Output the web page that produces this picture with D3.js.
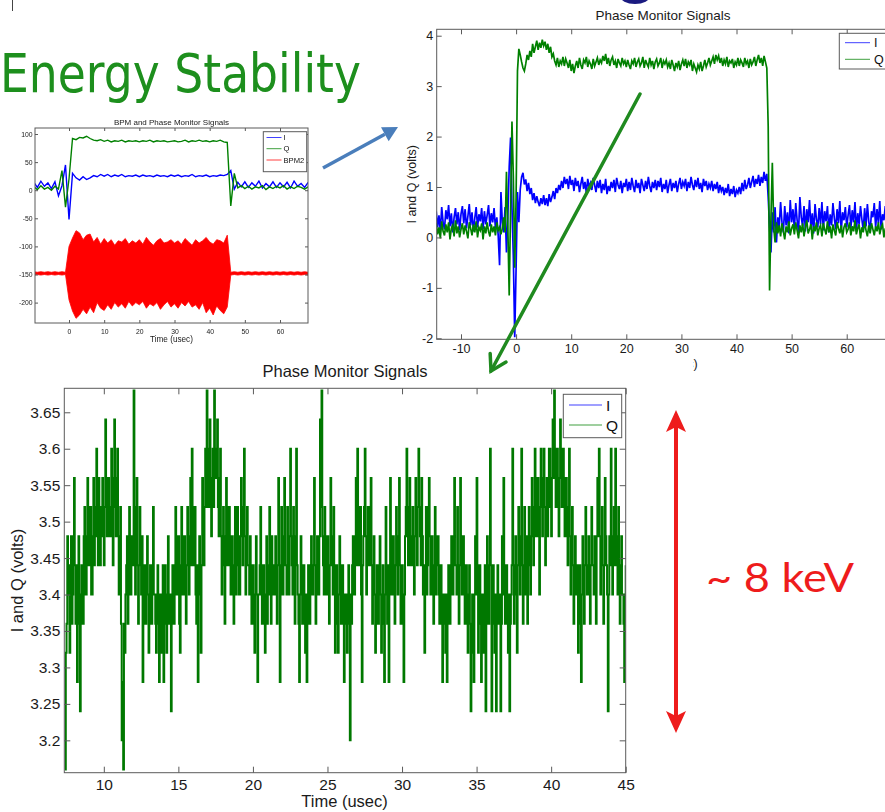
<!DOCTYPE html>
<html>
<head>
<meta charset="utf-8">
<script src="https://cdn.jsdelivr.net/npm/d3@7"></script>
<style>
  html, body { margin: 0; padding: 0; background: #fff; }
  svg { display: block; }
</style>
</head>
<body>
<svg id="slide" width="885" height="812"></svg>
<script>
// ---------------------------------------------------------------
// Data
// ---------------------------------------------------------------

// Overview panel: BPM and phase monitor signals (1 us per sample, from -10 us)
const bpmStart = -10, bpmStep = 1;
const bpmI = [
  14, 5, 16, 7, 13, 3, 15, -10, 8, 45,
  -52, 30, 22, 18, 24, 19, 22, 26, 24, 28,
  25, 28, 24, 27, 25, 28, 24, 26, 25, 27,
  24, 27, 25, 26, 24, 27, 25, 26, 24, 27,
  25, 27, 24, 26, 25, 28, 24, 26, 25, 27,
  24, 26, 25, 27, 26, 28, 35, 2, 14, 6,
  15, 5, 13, 7, 16, 4, 12, 6, 15, 5,
  13, 6, 14, 4, 16, 7, 12, 5, 14
];
const bpmQ = [
  6, 1, 8, 2, 5, 0, 7, 2, 35, -30,
  20, 92, 90, 94, 93, 96, 92, 89, 88, 90,
  87, 89, 86, 88, 87, 89, 86, 88, 87, 88,
  86, 88, 87, 89, 86, 88, 87, 88, 86, 87,
  88, 86, 87, 89, 86, 88, 87, 89, 87, 88,
  86, 88, 87, 89, 86, 85, -28, 30, 4, 8,
  3, 7, 2, 6, 4, 8, 1, 6, 3, 7,
  4, 8, 2, 6, 3, 7, 5, 2, 6
];
// BPM2 is a fast oscillation: stored as its upper and lower envelope
const bpm2Upper = [
  -145, -146, -145, -146, -145, -146, -145, -146, -145, -146,
  -100, -85, -72, -76, -88, -80, -78, -92, -84, -96,
  -86, -94, -88, -98, -90, -92, -86, -96, -90, -94,
  -88, -96, -84, -92, -98, -90, -86, -94, -92, -88,
  -94, -90, -96, -86, -92, -98, -88, -94, -90, -84,
  -92, -96, -88, -90, -94, -80, -146, -145, -146, -145,
  -146, -145, -146, -145, -146, -145, -146, -145, -146, -145,
  -146, -145, -146, -145, -146, -145, -146, -145, -146
];
const bpm2Lower = [
  -151, -150, -151, -150, -151, -150, -151, -150, -151, -150,
  -195, -215, -228, -222, -212, -220, -208, -218, -200, -210,
  -214, -204, -212, -200, -208, -202, -210, -198, -206, -200,
  -204, -198, -210, -202, -206, -200, -212, -204, -198, -208,
  -202, -210, -200, -206, -198, -208, -204, -212, -200, -218,
  -210, -222, -206, -214, -220, -208, -151, -150, -151, -150,
  -151, -150, -151, -150, -151, -150, -151, -150, -151, -150,
  -151, -150, -151, -150, -151, -150, -151, -150, -151
];
const bpmXTicks = [0, 10, 20, 30, 40, 50, 60];
const bpmYTicks = [-200, -150, -100, -50, 0, 50, 100];
const bpmSeries = ["I", "Q", "BPM2"];

// Phase monitor, full pulse (volts, 0.25 us per sample, from -14.5 us)
const phaseStart = -14.5, phaseStep = 0.25;
const phaseI = [
  0.52, 0.20, 0.44, 0.12, 0.60, 0.30, 0.16, 0.54, 0.36, 0.64, 0.22, 0.48, 0.10, 0.40, 0.58, 0.26, 0.50, 0.14, 0.46, 0.62,
  0.28, 0.56, 0.18, 0.42, 0.66, 0.24, 0.50, 0.12, 0.38, 0.60, 0.20, 0.46, 0.32, 0.58, 0.16, 0.52, 0.26, 0.44, 0.64, 0.22,
  0.48, 0.30, 0.58, 0.18, 0.40, 0.04, -0.55, 0.90, 0.30, 0.10, 0.60, -0.30, 0.40, 1.40, 1.98, 0.60, -0.40, -1.98, -0.60, 0.90,
  0.30, 0.95, 1.20, 1.28, 1.05, 1.15, 0.92, 1.08, 0.86, 0.98, 0.74, 0.88, 0.68, 0.82, 0.70, 0.62, 0.78, 0.66, 0.84, 0.64,
  0.78, 0.62, 0.86, 0.70, 0.80, 0.92, 0.76, 0.98, 0.88, 1.04, 0.94, 1.12, 0.98, 1.20, 1.06, 1.16, 0.96, 1.22, 1.04, 1.14,
  0.92, 1.18, 1.02, 1.12, 0.90, 1.06, 1.20, 0.96, 1.10, 0.88, 1.16, 1.00, 1.08, 0.94, 1.18, 1.04, 0.90, 1.12, 0.98, 1.14,
  0.88, 1.06, 0.94, 1.16, 0.86, 1.02, 0.92, 1.10, 0.98, 1.14, 0.90, 1.18, 1.04, 0.96, 1.12, 0.88, 1.08, 1.00, 1.16, 0.92,
  1.10, 0.94, 1.18, 1.02, 0.90, 1.14, 0.98, 1.08, 0.88, 1.16, 1.04, 0.92, 1.12, 0.96, 1.20, 1.02, 0.90, 1.10, 0.98, 1.14,
  0.94, 1.12, 1.00, 1.18, 0.90, 1.06, 0.96, 1.14, 0.88, 1.04, 1.16, 0.92, 1.08, 0.98, 1.12, 0.90, 1.06, 1.18, 0.96, 1.10,
  1.02, 1.16, 0.92, 1.10, 0.98, 1.20, 1.04, 0.94, 1.14, 1.00, 1.18, 0.96, 1.08, 0.90, 1.16, 1.02, 1.12, 0.94, 1.06, 0.98,
  1.12, 0.92, 1.06, 0.96, 1.10, 0.88, 1.04, 0.92, 1.00, 0.84, 0.98, 0.88, 1.06, 0.82, 0.96, 0.86, 1.02, 0.80, 0.94, 0.88,
  1.00, 0.86, 1.08, 0.92, 1.14, 0.96, 1.04, 1.18, 0.98, 1.10, 1.22, 1.00, 1.16, 1.06, 1.24, 1.02, 1.20, 1.08, 1.30, 1.12,
  1.26, 0.80, 0.20, -0.30, 0.50, 0.10, 0.60, -0.10, 0.40, 0.20, 0.70, 0.30, 0.10, 0.62, 0.24, 0.50, 0.08, 0.74, 0.30, 0.56,
  0.16, 0.68, 0.34, 0.10, 0.80, 0.40, 0.22, 0.62, 0.12, 0.56, 0.30, 0.74, 0.18, 0.48, 0.08, 0.66, 0.36, 0.20, 0.58, 0.26,
  0.70, 0.14, 0.52, 0.32, 0.62, 0.10, 0.46, 0.24, 0.68, 0.38, 0.16, 0.56, 0.28, 0.72, 0.12, 0.50, 0.34, 0.60, 0.20, 0.44,
  0.64, 0.18, 0.54, 0.30, 0.70, 0.12, 0.48, 0.26, 0.62, 0.36, 0.14, 0.58, 0.22, 0.66, 0.32, 0.10, 0.52, 0.40, 0.68, 0.20,
  0.56, 0.28, 0.72, 0.16, 0.46, 0.34, 0.62, 0.12, 0.54, 0.38, 0.60
];
const phaseQ = [
  0.28, 0.06, 0.20, -0.02, 0.32, 0.12, 0.04, 0.26, 0.10, 0.30, -0.04, 0.18, 0.24, 0.02, 0.34, 0.08, 0.22, 0.00, 0.16, 0.28,
  0.06, 0.24, 0.12, -0.02, 0.30, 0.18, 0.04, 0.26, 0.10, 0.32, 0.00, 0.20, 0.14, 0.28, -0.04, 0.22, 0.08, 0.30, 0.12, 0.02,
  0.26, 0.10, 0.22, 0.04, 0.30, 0.14, 0.20, 0.06, 0.18, 0.40, 0.10, 1.30, 0.20, -1.15, 0.60, 2.30, 1.20, -0.60, 0.80, 3.30,
  3.74, 3.62, 3.48, 3.36, 3.30, 3.44, 3.62, 3.52, 3.70, 3.58, 3.84, 3.66, 3.78, 3.90, 3.72, 3.86, 3.76, 3.92, 3.80, 3.88,
  3.72, 3.84, 3.66, 3.78, 3.58, 3.64, 3.50, 3.42, 3.56, 3.38, 3.50, 3.44, 3.58, 3.40, 3.54, 3.46, 3.36, 3.52, 3.30, 3.44,
  3.26, 3.40, 3.50, 3.36, 3.56, 3.42, 3.34, 3.52, 3.46, 3.58, 3.38, 3.50, 3.44, 3.34, 3.54, 3.40, 3.48, 3.56, 3.42, 3.52,
  3.46, 3.60, 3.50, 3.64, 3.44, 3.56, 3.40, 3.52, 3.58, 3.42, 3.50, 3.36, 3.54, 3.46, 3.40, 3.56, 3.44, 3.50, 3.38, 3.52,
  3.42, 3.34, 3.50, 3.44, 3.56, 3.38, 3.48, 3.54, 3.40, 3.46, 3.58, 3.36, 3.52, 3.44, 3.38, 3.56, 3.42, 3.50, 3.34, 3.48,
  3.54, 3.40, 3.46, 3.56, 3.36, 3.50, 3.44, 3.52, 3.38, 3.46, 3.34, 3.52, 3.42, 3.30, 3.46, 3.38, 3.50, 3.32, 3.44, 3.52,
  3.40, 3.54, 3.36, 3.48, 3.42, 3.52, 3.30, 3.44, 3.36, 3.28, 3.42, 3.34, 3.48, 3.30, 3.40, 3.52, 3.38, 3.46, 3.56, 3.42,
  3.50, 3.58, 3.44, 3.62, 3.52, 3.60, 3.46, 3.56, 3.40, 3.52, 3.44, 3.58, 3.38, 3.50, 3.46, 3.54, 3.36, 3.48, 3.42, 3.56,
  3.40, 3.52, 3.46, 3.38, 3.56, 3.44, 3.50, 3.36, 3.54, 3.42, 3.48, 3.58, 3.40, 3.52, 3.62, 3.46, 3.56, 3.40, 3.60, 3.48,
  3.36, 2.20, -1.05, 0.40, 1.48, 0.20, -0.10, 0.30, 0.08, 0.24, 0.02, 0.28, 0.12, -0.04, 0.22, 0.10, 0.32, 0.04, 0.18, 0.26,
  0.06, 0.30, 0.14, -0.02, 0.24, 0.10, 0.28, 0.02, 0.20, 0.34, 0.08, 0.16, 0.26, -0.04, 0.22, 0.12, 0.30, 0.04, 0.18, 0.24,
  0.02, 0.28, 0.16, 0.06, 0.32, 0.10, 0.22, -0.02, 0.26, 0.14, 0.04, 0.30, 0.18, 0.08, 0.24, 0.00, 0.20, 0.28, 0.10, 0.16,
  0.30, 0.04, 0.22, 0.12, 0.34, 0.06, 0.18, 0.26, -0.02, 0.20, 0.10, 0.32, 0.14, 0.02, 0.24, 0.08, 0.28, 0.16, 0.04, 0.22,
  0.12, 0.30, 0.06, 0.20, 0.26, 0.00, 0.18, 0.10, 0.28, 0.14, 0.22
];
const phaseXTicks = [-10, 0, 10, 20, 30, 40, 50, 60];
const phaseYTicks = [-2, -1, 0, 1, 2, 3, 4];
const phaseSeries = ["I", "Q"];

// Phase monitor Q, flat top in detail (volts, 0.05 us per sample, from 7.4 us)
const flatStart = 7.4, flatStep = 0.05;
const flatQ = [
  3.16, 3.32, 3.36, 3.48, 3.44, 3.40, 3.32, 3.44, 3.48, 3.36, 3.40, 3.48, 3.56, 3.44, 3.36, 3.44, 3.28, 3.40, 3.48, 3.36,
  3.24, 3.40, 3.44, 3.36, 3.36, 3.48, 3.52, 3.40, 3.40, 3.48, 3.56, 3.44, 3.44, 3.52, 3.52, 3.40, 3.40, 3.48, 3.56, 3.44,
  3.48, 3.52, 3.60, 3.48, 3.44, 3.56, 3.52, 3.44, 3.48, 3.52, 3.56, 3.48, 3.44, 3.52, 3.64, 3.52, 3.48, 3.56, 3.56, 3.48,
  3.52, 3.48, 3.60, 3.52, 3.44, 3.56, 3.64, 3.52, 3.48, 3.56, 3.60, 3.48, 3.40, 3.48, 3.52, 3.36, 3.20, 3.28, 3.16, 3.36,
  3.32, 3.40, 3.44, 3.48, 3.36, 3.44, 3.52, 3.40, 3.40, 3.48, 3.48, 3.44, 3.68, 3.48, 3.40, 3.52, 3.56, 3.44, 3.36, 3.44,
  3.52, 3.44, 3.40, 3.48, 3.28, 3.40, 3.44, 3.36, 3.36, 3.44, 3.48, 3.40, 3.32, 3.40, 3.44, 3.36, 3.36, 3.44, 3.52, 3.40,
  3.40, 3.36, 3.32, 3.40, 3.44, 3.36, 3.28, 3.40, 3.40, 3.32, 3.36, 3.44, 3.28, 3.36, 3.44, 3.36, 3.32, 3.40, 3.48, 3.36,
  3.36, 3.40, 3.24, 3.36, 3.44, 3.40, 3.36, 3.44, 3.52, 3.40, 3.40, 3.48, 3.48, 3.36, 3.32, 3.44, 3.52, 3.40, 3.40, 3.48,
  3.48, 3.40, 3.36, 3.44, 3.52, 3.44, 3.40, 3.48, 3.56, 3.44, 3.60, 3.48, 3.44, 3.52, 3.52, 3.40, 3.36, 3.44, 3.28, 3.44,
  3.48, 3.40, 3.32, 3.44, 3.56, 3.48, 3.44, 3.52, 3.60, 3.52, 3.68, 3.56, 3.52, 3.60, 3.64, 3.52, 3.48, 3.56, 3.60, 3.52,
  3.68, 3.56, 3.56, 3.60, 3.64, 3.52, 3.48, 3.56, 3.60, 3.48, 3.40, 3.48, 3.52, 3.44, 3.36, 3.48, 3.56, 3.44, 3.44, 3.52,
  3.52, 3.44, 3.40, 3.48, 3.48, 3.40, 3.36, 3.44, 3.52, 3.40, 3.44, 3.52, 3.48, 3.40, 3.40, 3.48, 3.56, 3.48, 3.44, 3.52,
  3.60, 3.48, 3.40, 3.48, 3.52, 3.44, 3.44, 3.40, 3.48, 3.40, 3.36, 3.44, 3.44, 3.36, 3.32, 3.40, 3.48, 3.40, 3.28, 3.40,
  3.40, 3.44, 3.52, 3.40, 3.36, 3.44, 3.44, 3.36, 3.32, 3.40, 3.48, 3.36, 3.40, 3.44, 3.52, 3.40, 3.36, 3.48, 3.44, 3.40,
  3.40, 3.44, 3.48, 3.40, 3.36, 3.44, 3.56, 3.44, 3.28, 3.40, 3.52, 3.44, 3.40, 3.48, 3.56, 3.44, 3.44, 3.40, 3.52, 3.44,
  3.40, 3.48, 3.60, 3.48, 3.44, 3.40, 3.52, 3.44, 3.36, 3.48, 3.60, 3.44, 3.40, 3.36, 3.28, 3.40, 3.48, 3.40, 3.36, 3.44,
  3.44, 3.36, 3.32, 3.40, 3.28, 3.36, 3.44, 3.40, 3.36, 3.44, 3.48, 3.40, 3.40, 3.44, 3.56, 3.44, 3.36, 3.44, 3.48, 3.40,
  3.40, 3.48, 3.64, 3.52, 3.68, 3.48, 3.44, 3.40, 3.52, 3.44, 3.40, 3.48, 3.48, 3.40, 3.36, 3.44, 3.56, 3.48, 3.44, 3.40,
  3.52, 3.44, 3.32, 3.40, 3.44, 3.36, 3.32, 3.40, 3.48, 3.40, 3.36, 3.44, 3.44, 3.36, 3.28, 3.40, 3.40, 3.36, 3.32, 3.40,
  3.44, 3.36, 3.20, 3.40, 3.36, 3.44, 3.48, 3.40, 3.40, 3.48, 3.56, 3.44, 3.60, 3.48, 3.44, 3.52, 3.52, 3.40, 3.28, 3.44,
  3.48, 3.52, 3.60, 3.48, 3.40, 3.48, 3.52, 3.44, 3.44, 3.52, 3.56, 3.44, 3.36, 3.44, 3.48, 3.40, 3.32, 3.40, 3.44, 3.36,
  3.36, 3.44, 3.48, 3.40, 3.32, 3.40, 3.44, 3.36, 3.28, 3.40, 3.52, 3.40, 3.36, 3.44, 3.28, 3.40, 3.56, 3.44, 3.40, 3.48,
  3.48, 3.40, 3.36, 3.44, 3.52, 3.44, 3.40, 3.48, 3.56, 3.44, 3.36, 3.40, 3.44, 3.36, 3.28, 3.40, 3.48, 3.52, 3.60, 3.48,
  3.44, 3.52, 3.56, 3.44, 3.48, 3.44, 3.52, 3.44, 3.40, 3.48, 3.56, 3.48, 3.44, 3.52, 3.60, 3.52, 3.48, 3.44, 3.56, 3.48,
  3.40, 3.44, 3.32, 3.44, 3.52, 3.40, 3.44, 3.52, 3.56, 3.48, 3.40, 3.48, 3.48, 3.40, 3.36, 3.44, 3.52, 3.40, 3.44, 3.48,
  3.48, 3.40, 3.36, 3.44, 3.44, 3.36, 3.28, 3.40, 3.40, 3.36, 3.32, 3.40, 3.28, 3.36, 3.44, 3.36, 3.36, 3.44, 3.48, 3.40,
  3.40, 3.48, 3.56, 3.44, 3.44, 3.40, 3.52, 3.44, 3.36, 3.44, 3.56, 3.44, 3.40, 3.48, 3.48, 3.40, 3.36, 3.44, 3.44, 3.36,
  3.32, 3.40, 3.44, 3.36, 3.24, 3.36, 3.40, 3.32, 3.28, 3.40, 3.48, 3.40, 3.56, 3.44, 3.32, 3.40, 3.44, 3.36, 3.28, 3.40,
  3.40, 3.32, 3.36, 3.44, 3.24, 3.36, 3.48, 3.40, 3.36, 3.44, 3.60, 3.44, 3.24, 3.36, 3.44, 3.36, 3.32, 3.40, 3.24, 3.36,
  3.44, 3.36, 3.36, 3.40, 3.24, 3.36, 3.48, 3.40, 3.56, 3.44, 3.36, 3.44, 3.44, 3.36, 3.32, 3.40, 3.24, 3.36, 3.40, 3.44,
  3.60, 3.44, 3.36, 3.44, 3.48, 3.40, 3.32, 3.44, 3.52, 3.44, 3.40, 3.48, 3.60, 3.44, 3.36, 3.44, 3.52, 3.40, 3.44, 3.48,
  3.36, 3.44, 3.52, 3.44, 3.40, 3.48, 3.56, 3.48, 3.44, 3.52, 3.60, 3.48, 3.48, 3.56, 3.56, 3.48, 3.40, 3.52, 3.60, 3.52,
  3.48, 3.56, 3.60, 3.52, 3.44, 3.52, 3.56, 3.48, 3.52, 3.60, 3.60, 3.52, 3.48, 3.56, 3.64, 3.56, 3.68, 3.60, 3.52, 3.60,
  3.60, 3.52, 3.48, 3.56, 3.64, 3.56, 3.52, 3.60, 3.60, 3.52, 3.48, 3.56, 3.56, 3.48, 3.44, 3.52, 3.60, 3.48, 3.40, 3.48,
  3.52, 3.44, 3.36, 3.44, 3.48, 3.40, 3.40, 3.44, 3.32, 3.40, 3.44, 3.36, 3.28, 3.40, 3.48, 3.40, 3.36, 3.44, 3.52, 3.44,
  3.40, 3.44, 3.48, 3.40, 3.36, 3.44, 3.52, 3.44, 3.44, 3.40, 3.48, 3.40, 3.36, 3.48, 3.56, 3.48, 3.60, 3.48, 3.40, 3.48,
  3.52, 3.44, 3.36, 3.44, 3.56, 3.48, 3.44, 3.40, 3.24, 3.40, 3.48, 3.44, 3.60, 3.48, 3.40, 3.48, 3.52, 3.44, 3.60, 3.48,
  3.44, 3.40, 3.52, 3.44, 3.36, 3.44, 3.48, 3.40, 3.40, 3.36, 3.28, 3.40, 3.44
];
const flatXTicks = [10, 15, 20, 25, 30, 35, 40, 45];
const flatYTicks = [3.2, 3.25, 3.3, 3.35, 3.4, 3.45, 3.5, 3.55, 3.6, 3.65];
const flatSeries = ["I", "Q"];

const seriesColor = { I: "#0000ff", Q: "#008000", BPM2: "#ff0000" };

// ---------------------------------------------------------------
// Drawing helpers
// ---------------------------------------------------------------
const svg = d3.select("#slide");
const defs = svg.append("defs");
const FONT = "'Liberation Sans', Arial, Helvetica, sans-serif";
const AXIS = "#5a5a5a";
const fmt = d => String(+d.toFixed(2));

defs.append("filter").attr("id", "soft")
  .attr("x", "-5%").attr("y", "-5%").attr("width", "110%").attr("height", "110%")
  .append("feGaussianBlur").attr("stdDeviation", 0.5);

// An axes box with inward ticks on all four sides (MATLAB style)
function makeAxes(root, o) {
  const x = d3.scaleLinear().domain(o.xDomain).range([o.left, o.right]);
  const y = d3.scaleLinear().domain(o.yDomain).range([o.bottom, o.top]);
  defs.append("clipPath").attr("id", o.id).append("rect")
    .attr("x", o.left).attr("y", o.top)
    .attr("width", o.right - o.left).attr("height", o.bottom - o.top);
  const plot = root.append("g").attr("clip-path", `url(#${o.id})`);
  const axes = root.append("g");
  return { x, y, plot, axes };
}

function finishAxes(A, o) {
  const g = A.axes;
  const style = sel => {
    sel.select(".domain").remove();
    sel.attr("font-size", null).attr("font-family", null);
    sel.selectAll(".tick line").attr("stroke", AXIS).attr("stroke-width", 1);
    sel.selectAll(".tick text").attr("fill", "#1a1a1a")
      .attr("font-size", o.fs).attr("font-family", FONT);
  };
  g.append("g").attr("transform", `translate(0,${o.bottom})`)
    .call(d3.axisBottom(A.x).tickValues(o.xTicks).tickSize(-o.tick).tickSizeOuter(0)
      .tickPadding(o.padX).tickFormat(fmt)).call(style);
  g.append("g").attr("transform", `translate(0,${o.top})`)
    .call(d3.axisTop(A.x).tickValues(o.xTicks).tickSize(-o.tick).tickSizeOuter(0)
      .tickFormat("")).call(style);
  g.append("g").attr("transform", `translate(${o.left},0)`)
    .call(d3.axisLeft(A.y).tickValues(o.yTicks).tickSize(-o.tick).tickSizeOuter(0)
      .tickPadding(o.padY).tickFormat(fmt)).call(style);
  g.append("g").attr("transform", `translate(${o.right},0)`)
    .call(d3.axisRight(A.y).tickValues(o.yTicks).tickSize(-o.tick).tickSizeOuter(0)
      .tickFormat("")).call(style);
  g.append("rect").attr("x", o.left).attr("y", o.top)
    .attr("width", o.right - o.left).attr("height", o.bottom - o.top)
    .attr("fill", "none").attr("stroke", AXIS).attr("stroke-width", 1);
}

function trace(A, values, start, step, color, width, curve) {
  const line = d3.line()
    .x((d, i) => A.x(start + i * step))
    .y(d => A.y(d))
    .curve(curve || d3.curveLinear);
  A.plot.append("path").datum(values)
    .attr("d", line).attr("fill", "none")
    .attr("stroke", color).attr("stroke-width", width)
    .attr("stroke-linejoin", "miter");
}

function legend(root, o) {
  const g = root.append("g");
  g.append("rect").attr("x", o.x).attr("y", o.y).attr("width", o.w).attr("height", o.h)
    .attr("fill", "#fff").attr("stroke", AXIS).attr("stroke-width", 1);
  o.names.forEach((name, i) => {
    const cy = o.rows[i];
    g.append("line").attr("x1", o.lx1).attr("x2", o.lx2).attr("y1", cy).attr("y2", cy)
      .attr("stroke", seriesColor[name]).attr("stroke-width", o.sw).attr("opacity", 0.75);
    g.append("text").attr("x", o.tx).attr("y", cy).attr("dy", "0.36em")
      .attr("font-family", FONT).attr("font-size", o.fs).attr("fill", "#111").text(name);
  });
}

function label(root, x, y, text, fs, opts = {}) {
  const t = root.append("text").attr("x", x).attr("y", y)
    .attr("font-family", opts.font || FONT).attr("font-size", fs)
    .attr("fill", opts.fill || "#1a1a1a")
    .attr("text-anchor", opts.anchor || "middle").text(text);
  if (opts.rotate) t.attr("transform", `rotate(-90,${x},${y})`);
  return t;
}

// ---------------------------------------------------------------
// Slide background and title
// ---------------------------------------------------------------
svg.append("rect").attr("width", 885).attr("height", 812).attr("fill", "#fff");
svg.append("line").attr("x1", 12.5).attr("x2", 12.5).attr("y1", 0).attr("y2", 11)
  .attr("stroke", "#444").attr("stroke-width", 1);

svg.append("text").attr("x", 0).attr("y", 92)
  .attr("font-family", "'DejaVu Sans', sans-serif").attr("font-size", 54)
  .attr("fill", "#1d8f1d").attr("textLength", 361).attr("lengthAdjust", "spacingAndGlyphs")
  .text("Energy Stability");

// ---------------------------------------------------------------
// Overview panel (top left)
// ---------------------------------------------------------------
{
  const root = svg.append("g").attr("filter", "url(#soft)");
  const o = {
    id: "clipBpm", left: 35, right: 308, top: 128, bottom: 323,
    xDomain: [-9.67, 67.96], yDomain: [-236.3, 110.7],
    xTicks: bpmXTicks, yTicks: bpmYTicks, tick: 3, fs: 6.8, padX: 6.2, padY: 2.5
  };
  const A = makeAxes(root, o);
  const area = d3.area()
    .x((d, i) => A.x(bpmStart + i * bpmStep))
    .y0((d, i) => A.y(bpm2Lower[i]))
    .y1(d => A.y(d));
  A.plot.append("path").datum(bpm2Upper).attr("d", area)
    .attr("fill", seriesColor.BPM2).attr("stroke", seriesColor.BPM2).attr("stroke-width", 0.8);
  trace(A, bpmI, bpmStart, bpmStep, seriesColor.I, 1.4);
  trace(A, bpmQ, bpmStart, bpmStep, seriesColor.Q, 1.4);
  finishAxes(A, o);
  legend(root, { x: 263.3, y: 131.7, w: 43.4, h: 40, names: bpmSeries,
    rows: [137.5, 148.7, 160], lx1: 266.5, lx2: 281.5, tx: 283.5, fs: 7.6, sw: 1 });
  label(root, 171.5, 125, "BPM and Phase Monitor Signals", 8);
  label(root, 171.5, 342, "Time (usec)", 8.2);
}

// ---------------------------------------------------------------
// Full pulse panel (top right)
// ---------------------------------------------------------------
{
  const root = svg.append("g");
  const o = {
    id: "clipPhase", left: 436.7, right: 890.8, top: 29.3, bottom: 339.3,
    xDomain: [-14.41, 68], yDomain: [-2.02, 4.127],
    xTicks: phaseXTicks, yTicks: phaseYTicks, tick: 5, fs: 12.5, padX: 5, padY: 3.5
  };
  const A = makeAxes(root, o);
  trace(A, phaseI, phaseStart, phaseStep, seriesColor.I, 1.7);
  trace(A, phaseQ, phaseStart, phaseStep, seriesColor.Q, 1.7);
  finishAxes(A, o);
  legend(root, { x: 839.3, y: 33.3, w: 60, h: 35.7, names: phaseSeries,
    rows: [42.7, 59.3], lx1: 845, lx2: 870, tx: 874, fs: 12.5, sw: 1 });
  label(root, 663, 20, "Phase Monitor Signals", 13.5);
  label(root, 416, 184.3, "I and Q (volts)", 12.5, { rotate: true });
  label(root, 665, 368, "Time (usec)", 12.5);
  // top border of the figure crops the title
  svg.append("rect").attr("x", 560).attr("y", 0).attr("width", 220).attr("height", 10.5)
    .attr("fill", "#fff");
  svg.append("ellipse").attr("cx", 635).attr("cy", -4).attr("rx", 15).attr("ry", 8)
    .attr("fill", "#1a1a80");
}

// ---------------------------------------------------------------
// Flat-top detail panel (bottom)
// ---------------------------------------------------------------
{
  svg.append("rect").attr("x", 0).attr("y", 357).attr("width", 693).attr("height", 455)
    .attr("fill", "#fff");
  const root = svg.append("g");
  const o = {
    id: "clipFlat", left: 64.3, right: 625.7, top: 388.3, bottom: 772.7,
    xDomain: [7.35, 45], yDomain: [3.1556, 3.6829],
    xTicks: flatXTicks, yTicks: flatYTicks, tick: 6, fs: 15.5, padX: 6.3, padY: 4
  };
  const A = makeAxes(root, o);
  trace(A, flatQ, flatStart, flatStep, "#007800", 2.0, d3.curveStepAfter);
  finishAxes(A, o);
  legend(root, { x: 563.3, y: 394.3, w: 58.4, h: 43.4, names: flatSeries,
    rows: [405, 425], lx1: 569, lx2: 602, tx: 606, fs: 15.5, sw: 1.2 });
  label(root, 345, 377, "Phase Monitor Signals", 16.5);
  label(root, 344.5, 807, "Time (usec)", 16.5);
  label(root, 23, 580.5, "I and Q (volts)", 16.5, { rotate: true });
}

// ---------------------------------------------------------------
// Annotations: arrows and energy spread
// ---------------------------------------------------------------
function arrowHead(x1, y1, x2, y2, len, half) {
  const dx = x2 - x1, dy = y2 - y1, L = Math.hypot(dx, dy);
  const ux = dx / L, uy = dy / L, px = -uy, py = ux;
  const bx = x2 - ux * len, by = y2 - uy * len;
  return { tip: [x2, y2], a: [bx + px * half, by + py * half], b: [bx - px * half, by - py * half],
           base: [bx, by] };
}

// blue arrow: overview -> full pulse
{
  const h = arrowHead(323, 168, 398, 127, 15, 8);
  svg.append("line").attr("x1", 323).attr("y1", 168).attr("x2", h.base[0]).attr("y2", h.base[1])
    .attr("stroke", "#4a7ebb").attr("stroke-width", 3.5);
  svg.append("polygon").attr("points", [h.tip, h.a, h.b].map(p => p.join(",")).join(" "))
    .attr("fill", "#4a7ebb");
}

// green arrow: full pulse -> flat-top detail
{
  const x1 = 640, y1 = 94, x2 = 491, y2 = 371;
  svg.append("line").attr("x1", x1).attr("y1", y1).attr("x2", x2).attr("y2", y2)
    .attr("stroke", "#1f8a1f").attr("stroke-width", 3.5).attr("stroke-linecap", "round");
  const h = arrowHead(x1, y1, x2, y2, 15, 9);
  svg.append("polyline").attr("points", [h.a, h.tip, h.b].map(p => p.join(",")).join(" "))
    .attr("fill", "none").attr("stroke", "#1f8a1f").attr("stroke-width", 3.5)
    .attr("stroke-linejoin", "miter").attr("stroke-linecap", "round");
}

// red double arrow spanning the flat-top spread
{
  const cx = 676, yTop = 410, yBot = 733, red = "#ee1c1c";
  svg.append("line").attr("x1", cx).attr("x2", cx).attr("y1", yTop + 14).attr("y2", yBot - 14)
    .attr("stroke", red).attr("stroke-width", 4);
  svg.append("polygon")
    .attr("points", `${cx},${yTop} ${cx + 10},${yTop + 22} ${cx},${yTop + 17} ${cx - 10},${yTop + 22}`)
    .attr("fill", red);
  svg.append("polygon")
    .attr("points", `${cx},${yBot} ${cx + 10},${yBot - 22} ${cx},${yBot - 17} ${cx - 10},${yBot - 22}`)
    .attr("fill", red);
  svg.append("text").attr("x", 706).attr("y", 592)
    .attr("font-family", "Lato, 'Open Sans', sans-serif").attr("font-size", 40)
    .attr("fill", red).attr("textLength", 148).attr("lengthAdjust", "spacingAndGlyphs")
    .text("~ 8 keV");
}
</script>
</body>
</html>
